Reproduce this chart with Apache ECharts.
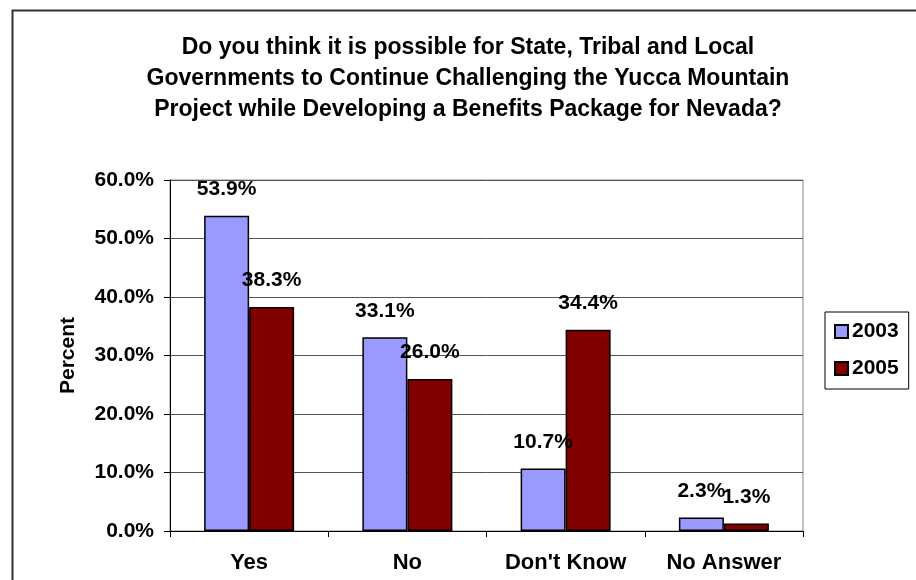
<!DOCTYPE html>
<html>
<head>
<meta charset="utf-8">
<script src="https://cdn.jsdelivr.net/npm/echarts@6/dist/echarts.min.js"></script>
<style>html,body{margin:0;padding:0;background:#fff}#c{width:916px;height:580px}</style>
</head>
<body>
<div id="c"></div>
<script>
const titleLines = [
  "Do you think it is possible for State, Tribal and Local",
  "Governments to Continue Challenging the Yucca Mountain",
  "Project while Developing a Benefits Package for Nevada?"
];
const categories = ["Yes", "No", "Don't Know", "No Answer"];
const seriesNames = ["2003", "2005"];
const values2003 = [53.9, 33.1, 10.7, 2.3];
const values2005 = [38.3, 26.0, 34.4, 1.3];
const yAxisName = "Percent";

const FONT = "Liberation Sans, Arial, sans-serif";
const chart = echarts.init(document.getElementById('c'));
const labelStyle = {
  show: true, position: 'top', distance: 16,
  fontFamily: FONT, fontWeight: 'bold', fontSize: 21, color: '#000',
  formatter: p => p.value.toFixed(1) + '%'
};
chart.setOption({
  animation: false,
  backgroundColor: '#fff',
  title: {
    text: titleLines.join('\n'),
    left: 463, top: 27, textAlign: 'center',
    textStyle: { fontFamily: FONT, fontWeight: 'bold', fontSize: 23, lineHeight: 31, color: '#000' }
  },
  graphic: [{
    type: 'rect', left: 10, top: 8, silent: true,
    shape: { width: 1000, height: 1000 },
    style: { fill: 'none', stroke: '#333', lineWidth: 2 }
  }],
  legend: {
    orient: 'vertical', left: 825, top: 312,
    itemWidth: 13, itemHeight: 13, itemGap: 16,
    padding: [9, 10, 10, 9],
    borderColor: '#000', borderWidth: 1,
    icon: 'rect',
    textStyle: { fontFamily: FONT, fontWeight: 'bold', fontSize: 21, color: '#000', padding: [0, 0, 0, -1] },
    data: seriesNames
  },
  grid: {
    left: 170, top: 180, right: 113, bottom: 49,
    show: true, borderColor: '#888', borderWidth: 1, backgroundColor: '#fff'
  },
  xAxis: {
    type: 'category', data: categories,
    axisLine: { lineStyle: { color: '#000', width: 1 } },
    axisTick: { show: true, length: 6, lineStyle: { color: '#000' } },
    axisLabel: { fontFamily: FONT, fontWeight: 'bold', fontSize: 22, color: '#000', margin: 21 }
  },
  yAxis: {
    type: 'value', min: 0, max: 60, interval: 10,
    name: yAxisName, nameLocation: 'middle', nameGap: 91, nameRotate: 90,
    nameTextStyle: { fontFamily: FONT, fontWeight: 'bold', fontSize: 21, color: '#000' },
    axisLine: { show: true, lineStyle: { color: '#000', width: 1 } },
    axisTick: { show: true, length: 6, lineStyle: { color: '#000' } },
    splitLine: { show: true, lineStyle: { color: '#555', width: 1 } },
    axisLabel: { fontFamily: FONT, fontWeight: 'bold', fontSize: 21, color: '#000', margin: 16,
      formatter: v => v.toFixed(1) + '%' }
  },
  series: [
    { name: seriesNames[0], type: 'bar', data: values2003, barWidth: 45, barGap: '0%',
      itemStyle: { color: '#9999FF', borderColor: '#000', borderWidth: 1.5 }, label: labelStyle },
    { name: seriesNames[1], type: 'bar', data: values2005, barWidth: 45, barGap: '0%',
      itemStyle: { color: '#800000', borderColor: '#000', borderWidth: 1.5 }, label: labelStyle }
  ]
});
</script>
</body>
</html>
